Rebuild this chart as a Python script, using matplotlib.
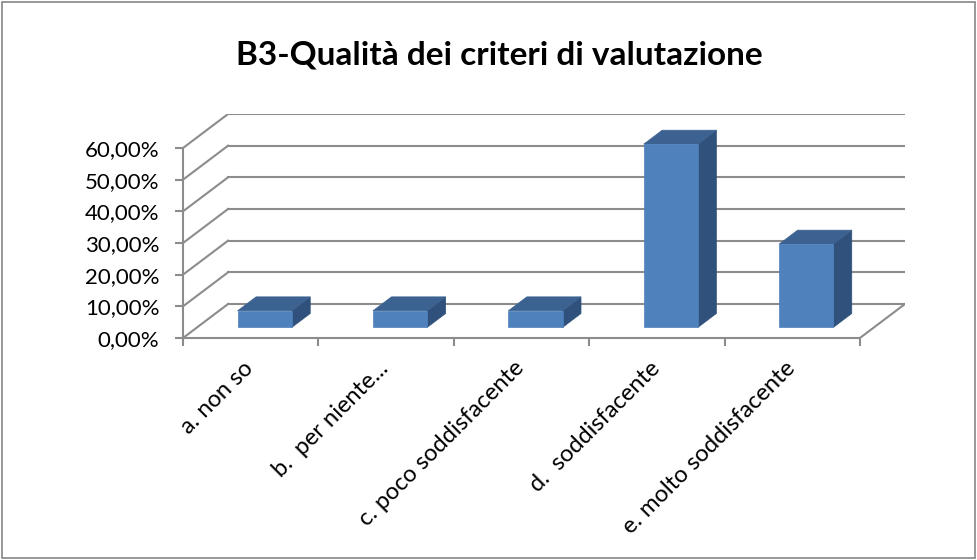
import matplotlib.pyplot as plt
from matplotlib.patches import Polygon, Rectangle
from matplotlib.transforms import ScaledTranslation

# data
categories = ["a. non so", "b.  per niente...", "c. poco soddisfacente",
              "d.  soddisfacente", "e. molto soddisfacente"]
values = [5.26, 5.26, 5.26, 57.89, 26.32]   # percent
yticks = [0, 10, 20, 30, 40, 50, 60]
title = "B3-Qualità dei criteri di valutazione"

plt.rcParams['font.family'] = ['Lato', 'DejaVu Sans']

# oblique 3d look: depth offset in data units
DX = 0.333
DY = 10.74
front_c = "#4F81BD"
top_c = "#3C6291"
side_c = "#2F517B"
grid_c = "#8C8C8C"

fig = plt.figure(figsize=(9.77, 5.6), dpi=100)
fig.patches.append(Rectangle((0.002, 0.003), 0.996, 0.994, transform=fig.transFigure,
                             fill=False, edgecolor="#868686", linewidth=1.2))

ax = fig.add_axes([183 / 977, (560 - 338) / 560, (905 - 183) / 977, (338 - 114) / 560])
n = len(categories)
ax.set_xlim(0, n + DX)
ax.set_ylim(0, 60 + DY)

# walls: back gridlines + left side diagonals + floor
for v in yticks:
    ax.plot([DX, n + DX], [v + DY, v + DY], color=grid_c, lw=1.5, zorder=1)
    ax.plot([0, DX], [v, v + DY], color=grid_c, lw=1.5, zorder=1)
ax.plot([n, n + DX], [0, DY], color=grid_c, lw=1.5, zorder=1)

# bars
f0, f1 = 0.31, 0.72
w = 0.4
for i, v in enumerate(values):
    x0 = i + 0.5 - w / 2 + f0 * DX
    y0 = f0 * DY
    ddx = (f1 - f0) * DX
    ddy = (f1 - f0) * DY
    ax.add_patch(Polygon([(x0 + w, y0), (x0 + w + ddx, y0 + ddy),
                          (x0 + w + ddx, y0 + v + ddy), (x0 + w, y0 + v)],
                         closed=True, facecolor=side_c, edgecolor=side_c, lw=0.5, zorder=3))
    ax.add_patch(Polygon([(x0, y0 + v), (x0 + w, y0 + v), (x0 + w + ddx, y0 + v + ddy),
                          (x0 + ddx, y0 + v + ddy)],
                         closed=True, facecolor=top_c, edgecolor=top_c, lw=0.5, zorder=3))
    ax.add_patch(Rectangle((x0, y0), w, v, facecolor=front_c, edgecolor=front_c,
                           lw=0.5, zorder=4))

# axes
for s in ["top", "right"]:
    ax.spines[s].set_visible(False)
ax.spines["left"].set_bounds(0, 60)
ax.spines["bottom"].set_bounds(0, n)
for s in ["left", "bottom"]:
    ax.spines[s].set_color(grid_c)
    ax.spines[s].set_linewidth(1.5)
ax.set_yticks(yticks)
ax.set_yticklabels([("%.2f%%" % v).replace(".", ",") for v in yticks])
ax.tick_params(axis="y", length=6, width=1.5, color=grid_c, pad=11, labelsize=16)
ax.set_xticks(range(n + 1))
ax.set_xticklabels([])
ax.tick_params(axis="x", which="major", length=6, width=1.5, color=grid_c)
ax.set_xticks([i + 0.5 for i in range(n)], minor=True)
ax.set_xticklabels(categories, minor=True, rotation=45, ha="right",
                   rotation_mode="anchor", fontsize=17)
ax.tick_params(axis="x", which="minor", length=0, pad=14)
shift = ScaledTranslation(-0.08, 0, fig.dpi_scale_trans)
for lbl in ax.get_xticklabels(minor=True):
    lbl.set_transform(lbl.get_transform() + shift)

fig.text(0.511, 0.902, title, ha="center", va="center", fontsize=24, fontweight="bold")

fig.savefig("out.png", dpi=100)
